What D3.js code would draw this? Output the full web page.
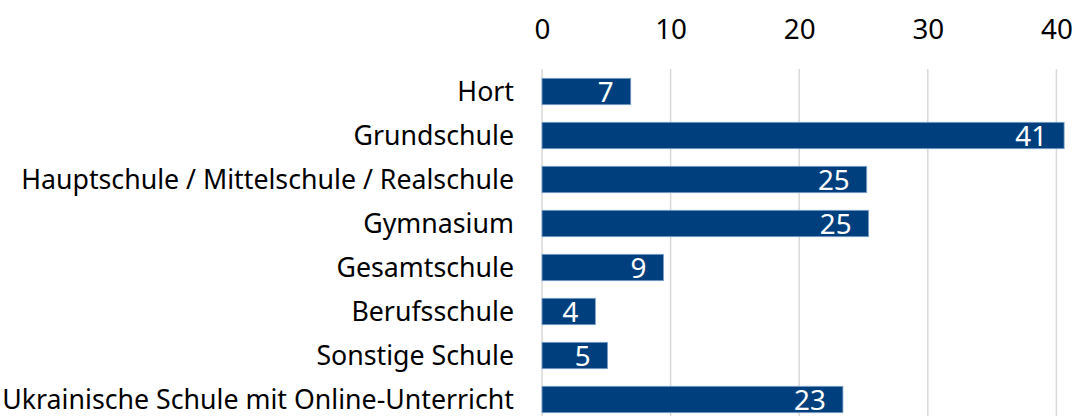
<!DOCTYPE html>
<html>
<head>
<meta charset="utf-8">
<script src="https://cdn.jsdelivr.net/npm/d3@7"></script>
<style>
html,body{margin:0;padding:0;background:#fff;}
svg{display:block;}
text{font-variant-ligatures:none;}
</style>
</head>
<body>
<svg id="chart" width="1075" height="416"></svg>
<script>
const categories = [
  "Hort",
  "Grundschule",
  "Hauptschule / Mittelschule / Realschule",
  "Gymnasium",
  "Gesamtschule",
  "Berufsschule",
  "Sonstige Schule",
  "Ukrainische Schule mit Online-Unterricht"
];
const values = [6.9, 40.6, 25.25, 25.4, 9.45, 4.15, 5.1, 23.4];
const tickValues = [0, 10, 20, 30, 40];

const FONT = "'Noto Sans', 'Open Sans', sans-serif";
const svg = d3.select("#chart");

// fit font size so the longest label spans like the reference
const probe = svg.append("text").style("font-family", FONT).style("font-size", "24px")
  .text(categories[7]);
const w24 = probe.node().getComputedTextLength();
probe.remove();
const fs = 24 * 512 / w24;
const numFs = fs * 1.04;

const x = d3.scaleLinear().domain([0, 40]).range([542, 1056.4]);
const y = d3.scaleBand().domain(categories).range([69.5, 421.5]).paddingInner(0.4).paddingOuter(0.2);

// grid
svg.append("g").selectAll("line").data(tickValues).join("line")
  .attr("x1", d => x(d)).attr("x2", d => x(d))
  .attr("y1", 69).attr("y2", 416)
  .attr("stroke", "#d9d9d9").attr("stroke-width", 1.5);

// top axis labels
const axis = d3.axisTop(x).tickValues(tickValues).tickSize(0).tickPadding(0);
const ag = svg.append("g").attr("transform", "translate(0,39)").call(axis);
ag.select(".domain").remove();
ag.selectAll("text").style("font-family", FONT).style("font-size", numFs + "px").attr("fill", "#000").attr("dy", 0);

// bars
svg.append("g").selectAll("rect").data(values).join("rect")
  .attr("x", x(0))
  .attr("y", (d, i) => y(categories[i]))
  .attr("width", d => x(d) - x(0))
  .attr("height", y.bandwidth())
  .attr("fill", "#003f7d")
  .attr("stroke", "#7fa3cc").attr("stroke-width", 0.8);

// value labels
svg.append("g").selectAll("text").data(values).join("text")
  .attr("x", d => x(d) - 17)
  .attr("y", (d, i) => y(categories[i]) + y.bandwidth() / 2)
  .attr("dy", "0.36em")
  .attr("text-anchor", "end")
  .style("font-family", FONT).style("font-size", numFs + "px")
  .attr("fill", "#fff")
  .text(d => Math.round(d));

// category labels
const yAxis = d3.axisLeft(y).tickSize(0).tickPadding(0);
const yg = svg.append("g").attr("transform", "translate(514,0)").call(yAxis);
yg.select(".domain").remove();
yg.selectAll("text").style("font-family", FONT).style("font-size", fs + "px").attr("fill", "#000").attr("dy", "0.36em");
</script>
</body>
</html>
